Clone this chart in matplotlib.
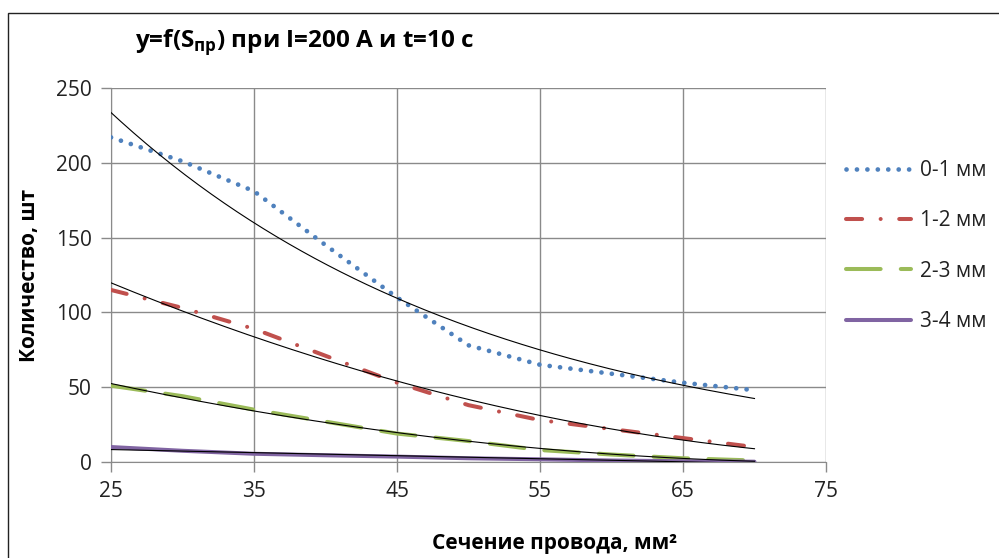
import matplotlib
matplotlib.use('Agg')
import matplotlib.pyplot as plt
from matplotlib.patches import Rectangle
import numpy as np

plt.rcParams['font.family'] = ['Open Sans', 'DejaVu Sans']
plt.rcParams['mathtext.fontset'] = 'custom'
plt.rcParams['mathtext.bf'] = 'Open Sans:bold'
plt.rcParams['mathtext.rm'] = 'Open Sans'

# data
sections = [25, 30, 35, 40, 45, 50, 55, 60, 65, 70]
s01 = [217, 201, 181, 145, 110, 78, 65, 59, 53, 48]
s12 = [115, 103, 89, 71, 53, 38, 28, 22, 16, 10]
s23 = [51, 44, 35, 27, 19, 14, 8, 5, 2.5, 1]
s34 = [10, 7.5, 5.5, 4.5, 3.6, 2.5, 1.8, 1, 0.5, 0.2]
labels = ['0-1 мм', '1-2 мм', '2-3 мм', '3-4 мм']
trend_kind = ['exp', 'poly2', 'poly2', 'lin']

colors = ['#4F81BD', '#C0504D', '#9BBB59', '#8064A2']
widths = [3.4, 2.9, 2.9, 2.9]
dashes = [(0.01, 2.2), (4.0, 4.6, 0.01, 4.6), (8.6, 5.0), None]

fig = plt.figure(figsize=(9.99, 5.58), dpi=100)
ax = fig.add_axes([111/999, 1-462/558, (826-111)/999, (462-88)/558])

x = np.array(sections, dtype=float)
for ys, lab, col, lw, dsh, kind in zip([s01, s12, s23, s34], labels, colors,
                                        widths, dashes, trend_kind):
    y = np.array(ys, dtype=float)
    ln, = ax.plot(x, y, color=col, lw=lw, label=lab,
                  solid_capstyle='round', dash_capstyle='round', zorder=3)
    if dsh is not None:
        ln.set_dashes(dsh)
    # trend line from the same data
    xf = np.linspace(x.min(), x.max(), 200)
    if kind == 'exp':
        b, a = np.polyfit(x, np.log(y), 1)
        yf = np.exp(a + b*xf)
    elif kind == 'poly2':
        yf = np.polyval(np.polyfit(x, y, 2), xf)
    else:
        yf = np.polyval(np.polyfit(x, y, 1), xf)
    ax.plot(xf, yf, color='black', lw=0.8, zorder=4)

ax.set_xlim(25, 75)
ax.set_ylim(0, 250)
ax.set_xticks([25, 35, 45, 55, 65, 75])
ax.set_yticks([0, 50, 100, 150, 200, 250])
ax.grid(True, color='#8a8a8a', lw=1)
ax.set_axisbelow(True)
for sp in ['top', 'right']:
    ax.spines[sp].set_visible(False)
for sp in ['left', 'bottom']:
    ax.spines[sp].set_color('#8a8a8a')
ax.tick_params(colors='#8a8a8a', labelcolor='#222222', labelsize=15,
               length=7, width=1, pad=7)

leg = ax.legend(loc='upper left', bbox_to_anchor=(838/999, 1-152/558),
                bbox_transform=fig.transFigure, frameon=False,
                fontsize=15, handlelength=3.1, labelspacing=1.4,
                handletextpad=0.45, borderaxespad=0)
for t in leg.get_texts():
    t.set_color('#222222')

fig.text(135/999, 1-42/558, r'y=f(S$_{\mathbf{пр}}$) при I=200 A и t=10 с',
         fontsize=17.5, fontweight='bold', ha='left', va='center')
fig.text(555/999, 1-543/558, 'Сечение провода, мм²', fontsize=15,
         fontweight='bold', ha='center', va='center')
fig.text(30/999, 1-275/558, 'Количество, шт', fontsize=15,
         fontweight='bold', ha='center', va='center', rotation=90)

fig.patches.append(Rectangle((8/999, -0.2), 2.0, 1.2 - 12.5/558,
                             transform=fig.transFigure, fill=False,
                             edgecolor='#222222', lw=1))

fig.savefig('out.png', dpi=100)
